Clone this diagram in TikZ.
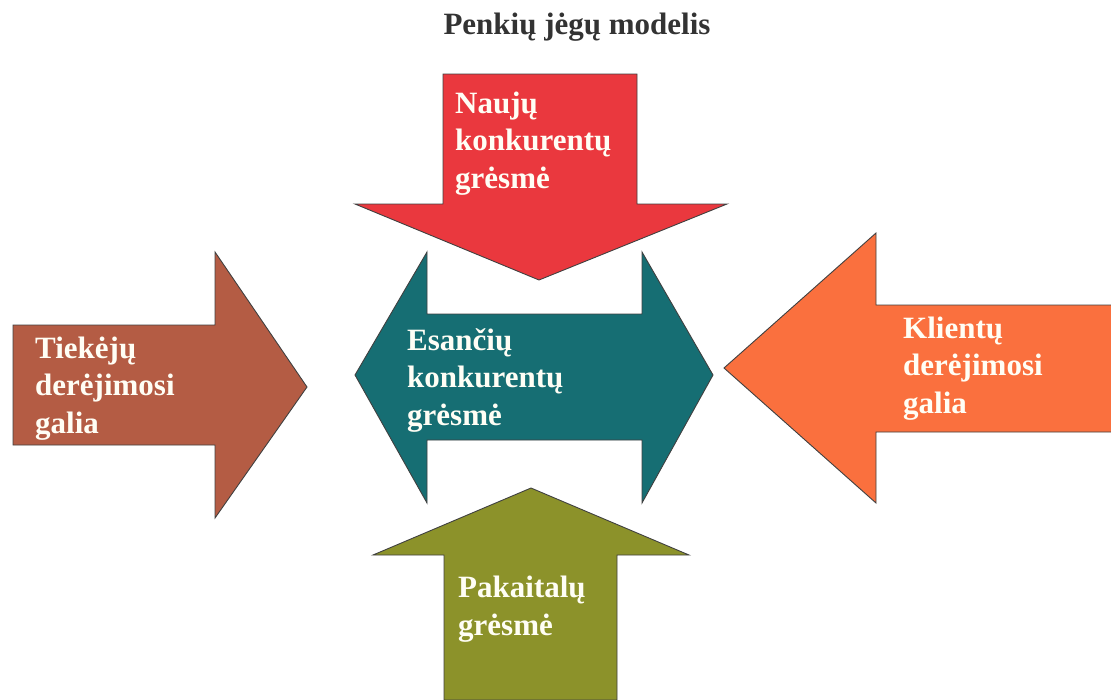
\documentclass[tikz,border=0pt]{standalone}
\usepackage{fontspec}
\setmainfont{Liberation Serif}
\begin{document}
\begin{tikzpicture}[x=1pt,y=-1pt,
  arrowshape/.style={draw=black!75,line width=0.9pt,line join=miter},
  lbl/.style={anchor=base west,align=left,inner sep=0pt,text=white!96!yellow,
    font=\bfseries\fontsize{31}{37.5}\selectfont},
  ttl/.style={anchor=base,inner sep=0pt,text=black!80,font=\bfseries\fontsize{31}{37}\selectfont}]
\definecolor{cred}{RGB}{234,56,62}
\definecolor{cbrown}{RGB}{180,92,68}
\definecolor{cteal}{RGB}{22,110,115}
\definecolor{corange}{RGB}{250,112,62}
\definecolor{colive}{RGB}{140,146,42}
\useasboundingbox (0,0) rectangle (1111,699);
% title
\node[ttl] (title) at (577,34) {Penkių jėgų modelis};
% teal double arrow
\fill[cteal,arrowshape] (355,375) -- (427,252) -- (427,314) -- (642,314) -- (642,252) -- (713,375)
  -- (642,503) -- (642,440) -- (427,440) -- (427,503) -- cycle;
% red down arrow
\fill[cred,arrowshape] (443,74) -- (637,74) -- (637,204) -- (727,204) -- (539,280)
  -- (355,204) -- (443,204) -- cycle;
% brown right arrow
\fill[cbrown,arrowshape] (13,325) -- (215,325) -- (215,252) -- (307,387) -- (215,518)
  -- (215,445) -- (13,445) -- cycle;
% orange left arrow
\fill[corange,arrowshape] (1112,305) -- (876,305) -- (876,233) -- (724,368) -- (876,503)
  -- (876,432) -- (1112,432) -- cycle;
% olive up arrow
\fill[colive,arrowshape] (444,700) -- (444,555) -- (373,555) -- (531,488) -- (689,555)
  -- (617,555) -- (617,700) -- cycle;
% labels (anchor at the baseline of the last line)
\node[lbl] (naujų) at (455,188) {Naujų\\konkurentų\\grėsmė};
\node[lbl] (tiek) at (35,433) {Tiekėjų\\derėjimosi\\galia};
\node[lbl] (esan) at (407,425) {Esančių\\konkurentų\\grėsmė};
\node[lbl] (klient) at (903,413) {Klientų\\derėjimosi\\galia};
\node[lbl] (pakait) at (458,635) {Pakaitalų\\grėsmė};
\end{tikzpicture}
\end{document}
